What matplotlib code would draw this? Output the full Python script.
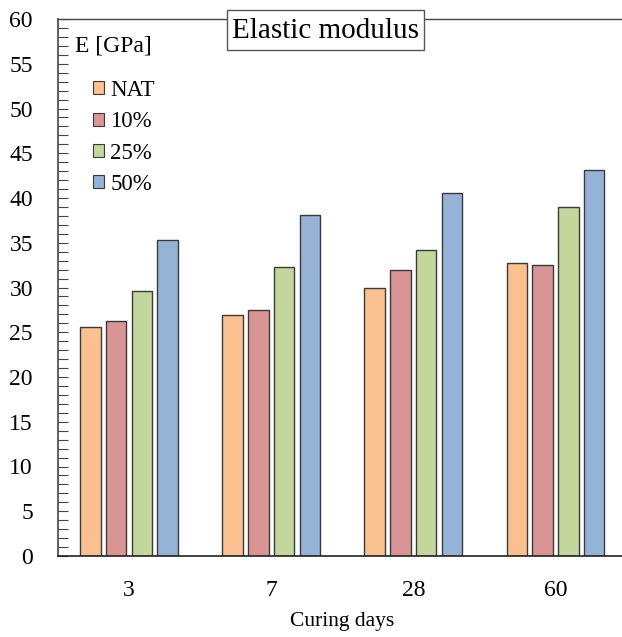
import matplotlib
matplotlib.use("Agg")
import matplotlib.pyplot as plt
from matplotlib.patches import Rectangle
import numpy as np

plt.rcParams['font.family'] = ['Liberation Serif', 'DejaVu Serif']

days = ["3", "7", "28", "60"]
series = ["NAT", "10%", "25%", "50%"]
nat = [25.6, 26.9, 29.9, 32.7]
p10 = [26.3, 27.5, 31.9, 32.5]
p25 = [29.6, 32.3, 34.2, 39.0]
p50 = [35.3, 38.1, 40.6, 43.1]
colors = ["#FAC090", "#D99594", "#C3D69B", "#95B3D7"]

W, H = 622, 637
fig = plt.figure(figsize=(W / 100, H / 100), dpi=100)
ax = fig.add_axes([58 / W, 1 - 556 / H, 568.5 / W, (556 - 19) / H])

x = np.arange(len(days))
pitch = 0.181
width = 0.144
for i, (vals, name, c) in enumerate(zip([nat, p10, p25, p50], series, colors)):
    ax.bar(x + (i - 1.5) * pitch, vals, width, color=c, edgecolor="#3a3a3a",
           linewidth=1.0, label=name, zorder=2)

ax.set_xlim(-0.5, 3.5)
ax.set_ylim(0, 60)
ax.set_yticks(np.arange(0, 61, 5))
ax.set_yticks(np.arange(0, 61, 1), minor=True)
ax.set_xticks(x)
ax.set_xticklabels(days)
ax.tick_params(axis='y', which='both', direction='in', length=7, width=0.8,
               color="#444444", labelsize=17, pad=18)
ax.tick_params(axis='x', length=0, labelsize=17, pad=17)

ax.spines['right'].set_visible(False)
ax.spines['top'].set_color("#444444")
ax.spines['top'].set_linewidth(1.0)
ax.spines['left'].set_color("#444444")
ax.spines['left'].set_linewidth(1.2)
ax.spines['bottom'].set_color("#222222")
ax.spines['bottom'].set_linewidth(1.2)

ax.set_xlabel("Curing days", fontsize=15.5, labelpad=8.5)

fig.text(75 / W, 1 - 46 / H, "E [GPa]", fontsize=17, va='center', ha='left')

# Boxed title sitting over the top spine
fig.patches.append(Rectangle((227 / W, 1 - 50 / H), (424 - 227) / W, 40 / H,
                             transform=fig.transFigure, facecolor='white',
                             edgecolor='#555555', linewidth=1.0, zorder=5))
fig.text(325.5 / W, 1 - 31 / H, "Elastic modulus", fontsize=21, va='center',
         ha='center', zorder=6)

leg = ax.legend(loc='upper left', bbox_to_anchor=(35 / 568.5, 1 - 61 / 537),
                frameon=False, borderpad=0, borderaxespad=0,
                fontsize=16.5, handlelength=0.5, handleheight=0.5,
                handletextpad=0.25, labelspacing=0.45)
for h in leg.legend_handles:
    h.set_linewidth(0.8)

fig.savefig("out.png", dpi=100)
